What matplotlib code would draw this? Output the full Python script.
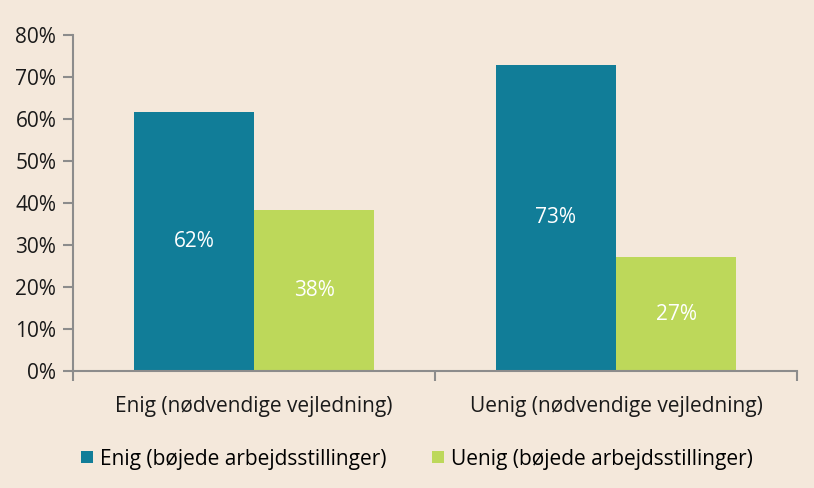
import matplotlib
matplotlib.use("Agg")
import matplotlib.pyplot as plt
import numpy as np

categories = ["Enig (nødvendige vejledning)", "Uenig (nødvendige vejledning)"]
series_names = ["Enig (bøjede arbejdsstillinger)", "Uenig (bøjede arbejdsstillinger)"]
enig_vals = [61.7, 72.9]
uenig_vals = [38.3, 27.1]
yticks = [0, 10, 20, 30, 40, 50, 60, 70, 80]

bg = "#F4E8DB"
teal = "#117D98"
green = "#BDD85A"
axcol = "#8C8C8C"

plt.rcParams['font.family'] = ['Open Sans', 'DejaVu Sans']

fig = plt.figure(figsize=(8.14, 4.88), dpi=100, facecolor=bg)
ax = fig.add_axes([73/814, 1-371/488, (797-73)/814, (371-35)/488])
ax.set_facecolor(bg)

x = np.arange(len(categories))
w = 0.332
b1 = ax.bar(x - w/2, enig_vals, w, color=teal, label=series_names[0])
b2 = ax.bar(x + w/2, uenig_vals, w, color=green, label=series_names[1])

for bars, vals in ((b1, enig_vals), (b2, uenig_vals)):
    for r, v in zip(bars, vals):
        ax.text(r.get_x() + r.get_width()/2, v/2, f"{round(v)}%", ha="center", va="center",
                color="white", fontsize=15)

ax.set_xlim(-0.5, 1.5)
ax.set_ylim(0, 80)
ax.set_yticks(yticks)
ax.set_yticklabels([f"{t}%" for t in yticks], fontsize=15, color="#1a1a1a")
ax.set_xticks(x)
ax.set_xticklabels(categories, fontsize=15, color="#1a1a1a")
ax.tick_params(axis='x', which='major', length=0, pad=18)
ax.set_xticks([-0.5, 0.5, 1.5], minor=True)
ax.tick_params(axis='x', which='minor', length=7, color=axcol, width=1.5)
ax.tick_params(axis='y', length=7, color=axcol, width=1.5, pad=5)
for s in ("top", "right"):
    ax.spines[s].set_visible(False)
for s in ("left", "bottom"):
    ax.spines[s].set_color(axcol)
    ax.spines[s].set_linewidth(1.5)

fig.legend(handles=[b1, b2], labels=series_names, loc="center", bbox_to_anchor=(417/814, 1-459/488),
           ncol=2, frameon=False, fontsize=15, handlelength=0.55, handleheight=0.55,
           handletextpad=0.35, columnspacing=2.2)

fig.savefig("out.png", dpi=100, facecolor=bg)
